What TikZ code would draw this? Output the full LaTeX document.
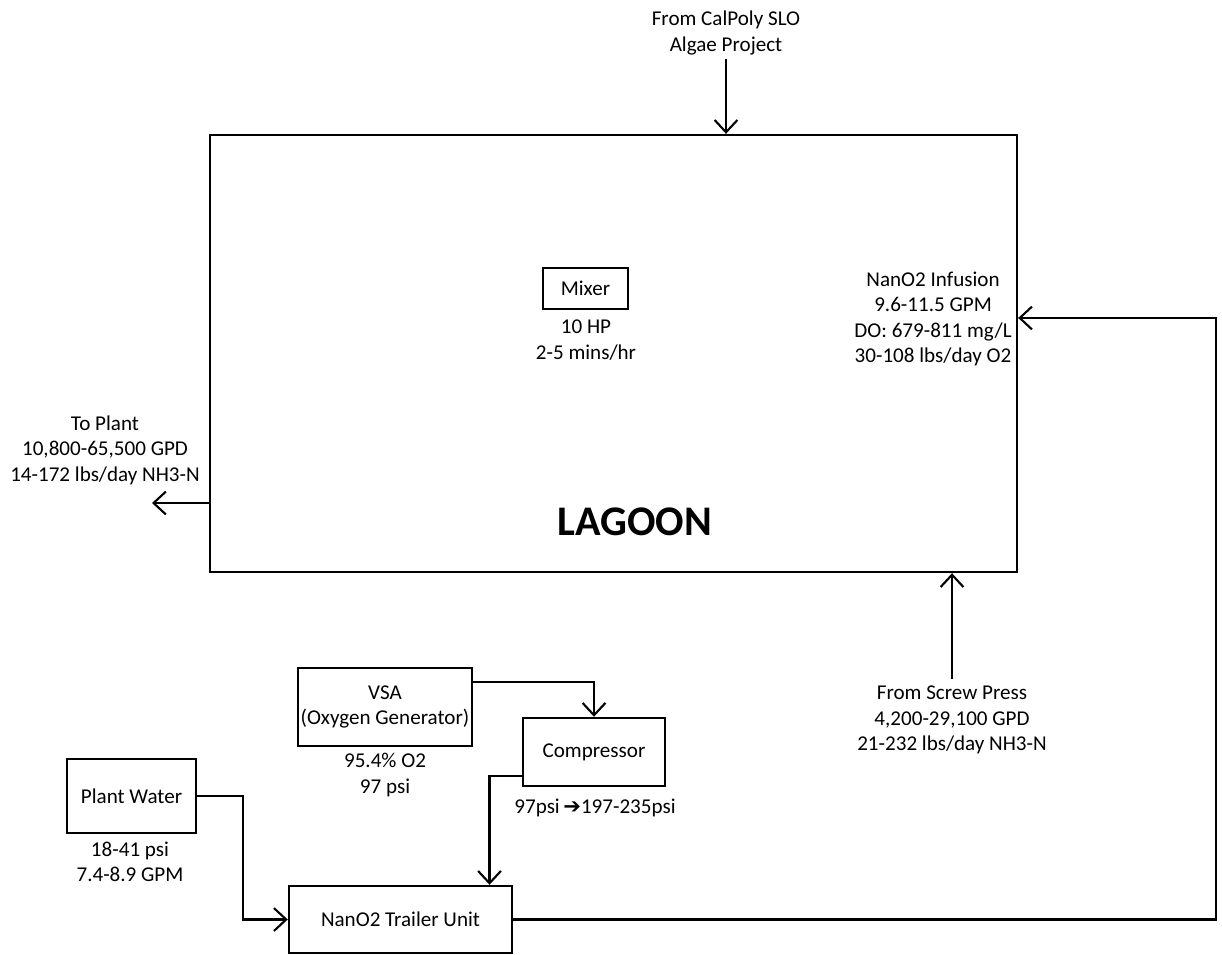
\documentclass[tikz,border=0pt]{standalone}
\usepackage{fontspec}
\setmainfont{Carlito}
\newfontfamily\symfont{DejaVu Sans}
\usetikzlibrary{positioning,calc}
\usetikzlibrary{arrows.meta}
\tikzstyle{unit} = [rectangle, draw=black, line width=1.4pt, text centered, inner sep=0pt]
\tikzstyle{info} = [align=center, inner sep=2pt]
\tikzstyle{flow} = [line width=1.2pt, -{Straight Barb[length=7pt,width=13pt]}]

\begin{document}
\begin{tikzpicture}[x=0.02cm, y=-0.02cm, font=\fontsize{12}{14.5}\selectfont]
\useasboundingbox (0,0) rectangle (1222,954);
% lagoon
\node (lagoon) at (613.5,353.5) [unit, minimum width=16.14cm, minimum height=8.74cm] {};
\node[font=\fontsize{24}{28}\selectfont\bfseries] (lagoontxt) at (635,522) {LAGOON};
\node (mixer) at (585.5,288.5) [unit, minimum width=1.7cm, minimum height=0.82cm] {Mixer};
\node[info] (mixerinfo) at (586,340) {10 HP\\2-5 mins/hr};
\node[info] (infusion) at (933,319) {NanO2 Infusion\\9.6-11.5 GPM\\DO: 679-811 mg/L\\30-108 lbs/day O2};
% inflows and outflows
\node[info] (calpoly) at (726,33) {From CalPoly SLO\\Algae Project};
\node[info] (toplant) at (105,450) {To Plant\\10,800-65,500 GPD\\14-172 lbs/day NH3-N};
\coordinate (plantout) at (152,503);
\node[info] (screw) at (952,720) {From Screw Press\\4,200-29,100 GPD\\21-232 lbs/day NH3-N};
% oxygen units
\node (vsa) at (385,707) [unit, minimum width=3.48cm, minimum height=1.56cm, align=center] {VSA\\(Oxygen Generator)};
\node[info] (vsainfo) at (385,775) {95.4\% O2\\97 psi};
\node (comp) at (594,752) [unit, minimum width=2.84cm, minimum height=1.36cm] {Compressor};
\node[info] (compinfo) at (595,808) {97psi\,{\symfont ➔}197-235psi};
\node (water) at (131.5,796) [unit, minimum width=2.58cm, minimum height=1.48cm] {Plant Water};
\node[info] (waterinfo) at (130,862) {18-41 psi\\7.4-8.9 GPM};
\node (trailer) at (400.5,919.5) [unit, minimum width=4.46cm, minimum height=1.34cm] {NanO2 Trailer Unit};
% connectors
\draw[flow] (calpoly.south) -- (calpoly.south |- lagoon.north);
\draw[flow] (plantout -| lagoon.west) -- (plantout);
\draw[flow] ($(screw.north)+(0,-3)$) -- (screw.north |- lagoon.south);
\draw[flow] ($(vsa.east)+(0,-25)$) -| (comp.north);
\draw[flow] ($(comp.west)+(0,24)$) -| ($(trailer.north)+(89,0)$);
\draw[flow] (water.east) -- ++(46,0) |- (trailer.west);
\draw[flow] (trailer.east) -- ++(703,0) |- ($(lagoon.east)+(0,-35.5)$);
\end{tikzpicture}
\end{document}
